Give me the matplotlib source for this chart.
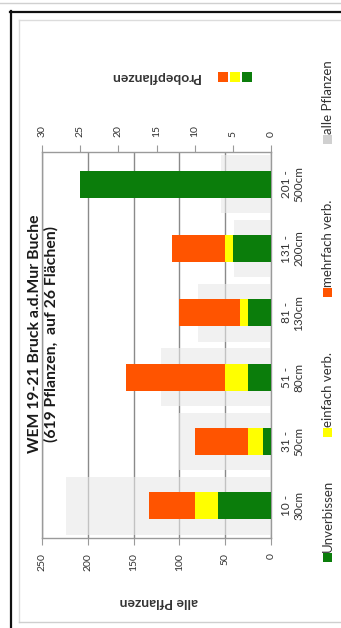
import matplotlib
matplotlib.use("Agg")
import matplotlib.pyplot as plt
from matplotlib.lines import Line2D
from matplotlib.patches import Rectangle
import numpy as np

plt.rcParams['font.family'] = ['Lato', 'DejaVu Sans']

# Height classes
categories = ["10 -\n30cm", "31 -\n50cm", "51 -\n80cm", "81 -\n130cm", "131 -\n200cm", "201 -\n500cm"]
# All plants per height class (primary axis)
alle_pflanzen = [224, 100, 120, 80, 40, 55]
# Sample plants per height class (secondary axis), stacked by browsing state
unverbissen = [7, 1, 3, 3, 5, 25]
einfach_verb = [3, 2, 3, 1, 1, 0]
mehrfach_verb = [6, 7, 13, 8, 7, 0]

primary_ticks = [0, 50, 100, 150, 200, 250]
secondary_ticks = [0, 5, 10, 15, 20, 25, 30]

C_GREEN = '#0b7d0b'
C_YELLOW = '#ffff00'
C_ORANGE = '#ff5400'
C_GREY = '#e9e9e9'
C_AXIS = '#9a9a9a'
C_GRID = '#8a8a8a'

W, H = 341, 628
fig = plt.figure(figsize=(W / 100, H / 100), dpi=100)
fig.patch.set_facecolor('white')


def fx(x):
    return x / W


def fy(y):
    return 1 - y / H


# Plot area (category axis vertical on the right, values growing leftwards)
x0, x1, y0, y1 = 42, 271, 152, 538
ax = fig.add_axes([fx(x0), fy(y1), (x1 - x0) / W, (y1 - y0) / H])
ypos = np.arange(len(categories))

ax.set_xlim(250, 0)
ax.set_ylim(-0.5, len(categories) - 0.5)
ax.set_axisbelow(True)
ax.grid(axis='x', color=C_GRID, lw=1.0)
ax.barh(ypos, alle_pflanzen, height=0.9, color=C_GREY, alpha=0.6, zorder=2)

ax.set_xticks(primary_ticks)
ax.set_xticklabels([str(t) for t in primary_ticks])
ax.tick_params(axis='x', which='major', direction='out', length=5, width=0.8,
               color=C_AXIS, labelsize=7.5, labelrotation=90, pad=6,
               labelcolor='#333333')

ax.set_yticks(ypos)
ax.yaxis.tick_right()
ax.set_yticklabels(categories, rotation=90, va='center', ha='left',
                   multialignment='center', fontsize=8.5, color='#333333')
ax.tick_params(axis='y', length=0, pad=7)

for side in ['left', 'right', 'top', 'bottom']:
    ax.spines[side].set_color(C_AXIS)
    ax.spines[side].set_linewidth(1.0)

# Secondary value axis for the sample plants
ax2 = ax.twiny()
ax2.set_xlim(30, 0)
left = np.zeros(len(categories))
for vals, col in [(unverbissen, C_GREEN), (einfach_verb, C_YELLOW), (mehrfach_verb, C_ORANGE)]:
    ax2.barh(ypos, vals, left=left, height=0.42, color=col, zorder=3)
    left += np.array(vals)
ax2.set_xticks(secondary_ticks)
ax2.set_xticklabels([str(t) for t in secondary_ticks])
ax2.tick_params(axis='x', direction='out', length=5, width=0.8, color=C_AXIS,
                labelsize=7.5, labelrotation=90, pad=6, labelcolor='#333333')
for side in ['left', 'right', 'top', 'bottom']:
    ax2.spines[side].set_visible(False)

# Title
fig.text(fx(43), fy(334), "WEM 19-21 Bruck a.d.Mur Buche\n(619 Pflanzen,  auf 26 Flächen)",
         rotation=90, ha='center', va='center', multialignment='center',
         fontsize=11.3, fontweight='bold', color='#1a1a1a', linespacing=1.2)

# Axis titles
fig.text(fx(159), fy(602), "alle Pflanzen", rotation=180, ha='center', va='center',
         fontsize=10, fontweight='bold', color='#333333')
fig.text(fx(155), fy(77), "Probepflanzen", rotation=180, ha='center', va='center',
         fontsize=10, fontweight='bold', color='#333333')
for cx, col in [(223, C_ORANGE), (235, C_YELLOW), (247, C_GREEN)]:
    fig.add_artist(Rectangle((fx(cx - 5), fy(82)), 10 / W, 10 / H,
                             transform=fig.transFigure, facecolor=col, edgecolor='none'))

# Legend along the right edge
legend_items = [
    ("Unverbissen", C_GREEN, 558),
    ("einfach verb.", C_YELLOW, 433),
    ("mehrfach verb.", C_ORANGE, 293),
    ("alle Pflanzen", '#d0d0d0', 140),
]
for label, col, my in legend_items:
    fig.add_artist(Rectangle((fx(323), fy(my + 4)), 9 / W, 9 / H,
                             transform=fig.transFigure, facecolor=col,
                             edgecolor='none'))
    fig.text(fx(328), fy(my - 6), label, rotation=90, ha='center', va='bottom',
             fontsize=9.5, color='#333333')

# Chart frame
frame = [
    ([fx(0), fx(W)], [fy(3), fy(3)], '#d0d0d0', 1.0),
    ([fx(19), fx(W)], [fy(20), fy(20)], '#dcdcdc', 1.0),
    ([fx(19), fx(19)], [fy(20), fy(622)], '#dcdcdc', 1.0),
    ([fx(19), fx(W)], [fy(622), fy(622)], '#cfcfcf', 1.0),
    ([fx(10), fx(W)], [fy(11.5), fy(11.5)], '#111111', 1.6),
    ([fx(11), fx(11)], [fy(11), fy(H)], '#111111', 1.6),
]
for xs, ys, col, lw in frame:
    fig.add_artist(Line2D(xs, ys, transform=fig.transFigure, color=col, lw=lw))

fig.savefig("out.png", dpi=100, facecolor='white')
